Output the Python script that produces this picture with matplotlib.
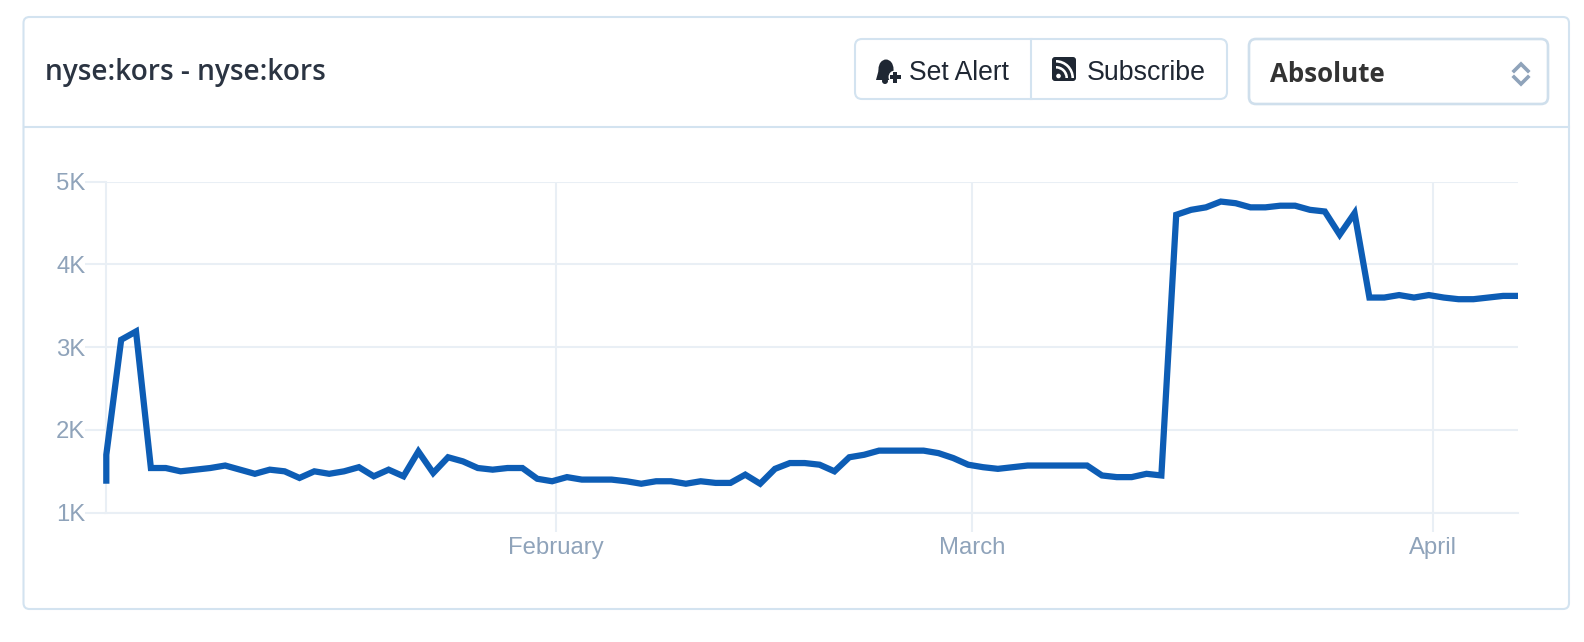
import matplotlib
matplotlib.use("Agg")
import matplotlib.pyplot as plt
from matplotlib.patches import FancyBboxPatch, Circle, Wedge, Ellipse, Polygon, Rectangle
import pandas as pd

start_value = 1350
values = [1700, 3090, 3190, 1540, 1540, 1500, 1520, 1540, 1570, 1520,
          1470, 1520, 1500, 1420, 1500, 1470, 1500, 1550, 1440, 1520,
          1440, 1740, 1480, 1670, 1620, 1540, 1520, 1540, 1540, 1410,
          1380, 1430, 1400, 1400, 1400, 1380, 1350, 1380, 1380, 1350,
          1380, 1360, 1360, 1460, 1350, 1530, 1600, 1600, 1580, 1500,
          1670, 1700, 1750, 1750, 1750, 1750, 1720, 1660, 1580, 1550,
          1530, 1550, 1570, 1570, 1570, 1570, 1570, 1450, 1430, 1430,
          1470, 1450, 4600, 4660, 4690, 4760, 4740, 4690, 4690, 4710,
          4710, 4660, 4640, 4360, 4620, 3600, 3600, 3630, 3600, 3630,
          3600, 3580, 3580, 3600, 3620, 3620]
y_ticks = [1000, 2000, 3000, 4000, 5000]
y_labels = ["1K", "2K", "3K", "4K", "5K"]
month_ticks = ["2018-02-01", "2018-03-01", "2018-04-01"]
month_labels = ["February", "March", "April"]

W, H = 1584, 642
GRID = "#e9eff5"
BORDER = "#d3e3f0"
MUTED = "#8fa3ba"
DARK = "#1f2733"

dates = pd.date_range("2018-01-01 18:00", periods=len(values), freq="D")
x = [dates[0]] + list(dates)
y = [start_value] + values

fig = plt.figure(figsize=(W / 100, H / 100), dpi=100, facecolor="white")

# overlay in pixel coords for the card and the buttons
ui = fig.add_axes([0, 0, 1, 1])
ui.set_xlim(0, W)
ui.set_ylim(H, 0)
ui.axis("off")


def box(x0, y0, x1, y1, r=7, lw=1.5, ec=BORDER):
    ui.add_patch(FancyBboxPatch((x0 + r, y0 + r), x1 - x0 - 2 * r, y1 - y0 - 2 * r,
                                boxstyle="round,pad=%d,rounding_size=%d" % (r, r),
                                fc="white", ec=ec, lw=lw))


box(23.5, 17, 1569, 609, r=6)
ui.plot([24, 1569], [127, 127], color=BORDER, lw=1.5)

ui.text(45, 72.5, "nyse:kors - nyse:kors", fontsize=20.2, family="Open Sans", weight=600,
        color="#2b3442", va="center", ha="left")

box(855, 39, 1227, 99)
ui.plot([1031, 1031], [39, 99], color=BORDER, lw=1.5)
ui.text(909, 73, "Set Alert", fontsize=19.1, family="Liberation Sans", color=DARK,
        va="center", ha="left")
ui.text(1087, 73, "Subscribe", fontsize=19.3, family="Liberation Sans", color=DARK,
        va="center", ha="left")

# bell icon
ui.add_patch(Ellipse((886, 69), 15, 19, fc=DARK, ec="none"))
ui.add_patch(Polygon([[879, 69], [893, 69], [896, 80], [876, 80]], fc=DARK, ec="none"))
ui.add_patch(Circle((885, 81), 3, fc=DARK, ec="none"))
ui.add_patch(Circle((895, 77), 6.5, fc="white", ec="none"))
ui.add_patch(Rectangle((889.5, 75.2), 11, 3.4, fc=DARK, ec="none"))
ui.add_patch(Rectangle((893.3, 71.5), 3.4, 11, fc=DARK, ec="none"))

# rss icon
ui.add_patch(FancyBboxPatch((1055, 60), 18, 18, boxstyle="round,pad=3,rounding_size=3",
                            fc=DARK, ec="none"))
ui.add_patch(Circle((1058.5, 76), 2.3, fc="white", ec="none"))
ui.add_patch(Wedge((1056, 78), 12, 270, 360, width=2.6, fc="white", ec="none"))
ui.add_patch(Wedge((1056, 78), 18, 270, 360, width=2.6, fc="white", ec="none"))

box(1249, 39, 1548, 104, lw=1.9, ec="#cfdfec")
ui.text(1270, 74.5, "Absolute", fontsize=18.6, family="Open Sans", weight="bold", color="#333333",
        va="center", ha="left")
ui.plot([1514, 1521, 1528], [71, 64, 71], color=MUTED, lw=2.6, solid_joinstyle="miter")
ui.plot([1514, 1521, 1528], [77, 84, 77], color=MUTED, lw=2.6, solid_joinstyle="miter")

# the chart itself
x0, x1 = 106.3, 1518
y5k, y1k = 181.7, 512.7
ax = fig.add_axes([x0 / W, 1 - y1k / H, (x1 - x0) / W, (y1k - y5k) / H])
ax.patch.set_alpha(0)
ax.plot(x, y, color="#0d5db5", lw=4.5, solid_joinstyle="miter", solid_capstyle="butt",
        clip_on=False, zorder=5)
ax.set_xlim(dates[0], dates[-1])
ax.set_ylim(1000, 5000)

ax.set_yticks(y_ticks)
ax.set_yticklabels(y_labels)
ax.set_xticks(pd.to_datetime(month_ticks))
ax.set_xticklabels(month_labels)
ax.grid(True, color=GRID, lw=1.5)
ax.set_axisbelow(True)
ax.tick_params(axis="y", length=15, width=1.5, color=GRID, labelcolor=MUTED, labelsize=17.2, pad=0)
ax.tick_params(axis="x", length=14, width=1.5, color=GRID, labelcolor=MUTED, labelsize=17.2, pad=3.5)
for lab in ax.get_xticklabels() + ax.get_yticklabels():
    lab.set_family("Liberation Sans")

for side in ["top", "right"]:
    ax.spines[side].set_visible(False)
for side in ["left", "bottom"]:
    ax.spines[side].set_color(GRID)
    ax.spines[side].set_linewidth(1.5)

plt.savefig("out.png", dpi=100)
